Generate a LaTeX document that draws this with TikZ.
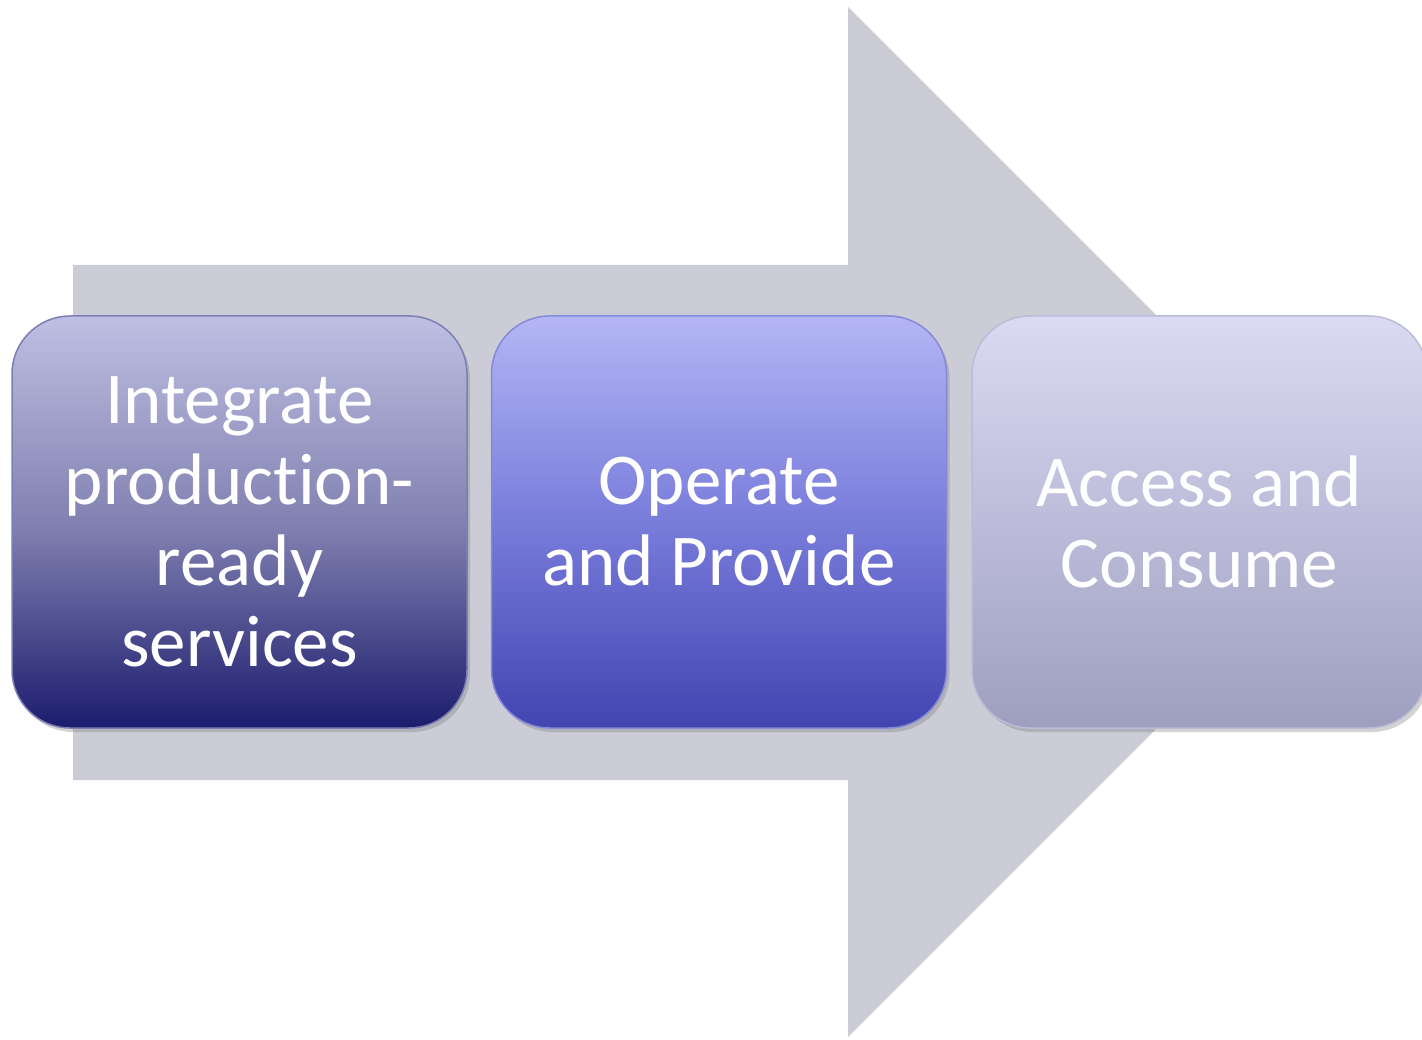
\documentclass[tikz,border=0pt]{standalone}
\usepackage{fontspec}
\setmainfont{Carlito}[Ligatures=NoCommon]
\usetikzlibrary{shadows}
\definecolor{arrowgray}{RGB}{203,204,213}
\definecolor{aTop}{RGB}{190,191,226}
\definecolor{aMid}{RGB}{130,130,178}
\definecolor{aBot}{RGB}{28,28,110}
\definecolor{bTop}{RGB}{180,182,245}
\definecolor{bMid}{RGB}{120,124,218}
\definecolor{bBot}{RGB}{66,68,176}
\definecolor{cTop}{RGB}{218,218,242}
\definecolor{cMid}{RGB}{188,188,218}
\definecolor{cBot}{RGB}{158,158,190}
\tikzset{
  stagebox/.style={rectangle, rounded corners=58pt, minimum width=455pt, minimum height=412pt,
    align=center, text=white, inner sep=0pt, line width=1.5pt,
    font=\fontsize{73}{81}\selectfont,
    drop shadow={opacity=0.35, shadow xshift=3pt, shadow yshift=-4pt}},
}
\begin{document}
\begin{tikzpicture}[x=1pt,y=-1pt]
\useasboundingbox (0,0) rectangle (1422,1040);
% big arrow
\fill[arrowgray] (73,265) -- (848,265) -- (848,7) -- (1363,522) -- (848,1037) -- (848,780) -- (73,780) -- cycle;
% boxes
\node[stagebox, top color=aTop, bottom color=aBot, middle color=aMid, draw=aTop!60!aBot] (s1) at (239.5,522) {Integrate\\produc\kern0pt tion-\\ready\\services};
\node[stagebox, top color=bTop, bottom color=bBot, middle color=bMid, draw=bTop!60!bBot] (s2) at (719,522) {Operate\\and Provide};
\node[stagebox, top color=cTop, bottom color=cBot, middle color=cMid, draw=cTop!50!cBot] (s3) at (1199.5,522) {Access and\\Consume};
\end{tikzpicture}
\end{document}
